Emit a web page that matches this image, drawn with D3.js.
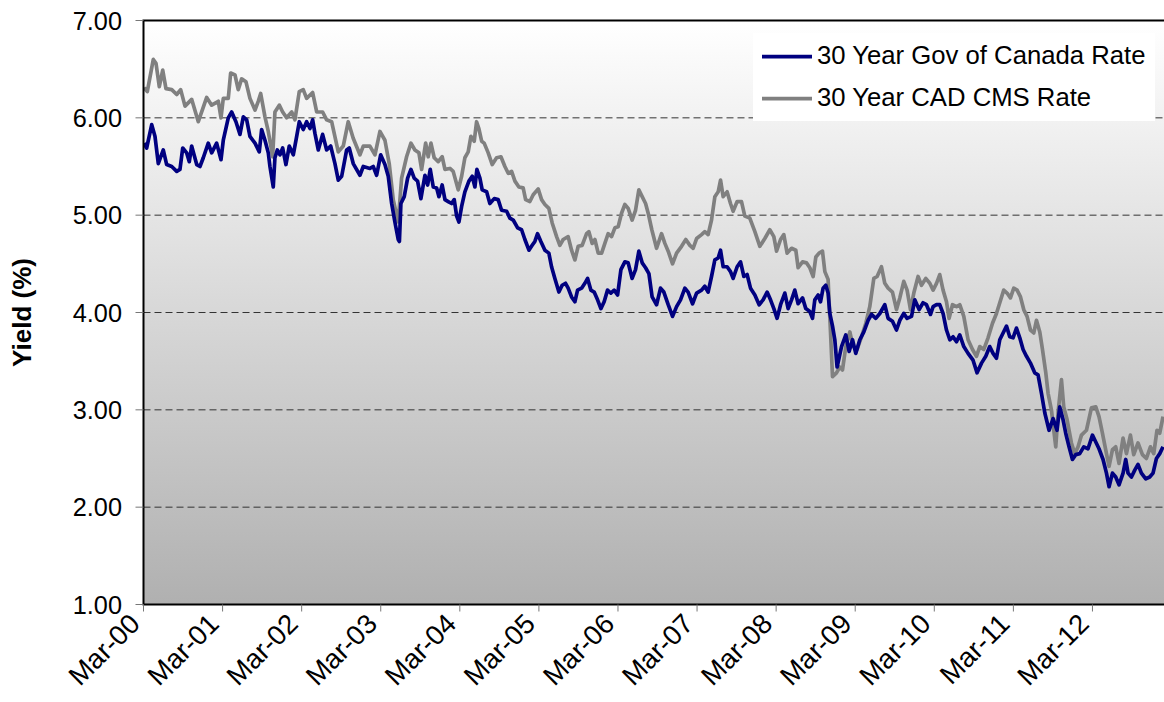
<!DOCTYPE html>
<html>
<head>
<meta charset="utf-8">
<script src="https://cdn.jsdelivr.net/npm/d3@7"></script>
<style>
    body { margin: 0; background: #fff; }
    svg text { font-family: "Liberation Sans", Arial, sans-serif; fill: #000; }
</style>
</head>
<body>
<svg id="chart" width="1164" height="702"></svg>
<script>

// axis labels
var tickYears = [2000, 2001, 2002, 2003, 2004, 2005, 2006, 2007, 2008, 2009, 2010, 2011, 2012];
var tickLabels = ["Mar-00", "Mar-01", "Mar-02", "Mar-03", "Mar-04", "Mar-05", "Mar-06",
                  "Mar-07", "Mar-08", "Mar-09", "Mar-10", "Mar-11", "Mar-12"];
var yTicks = [1, 2, 3, 4, 5, 6, 7];
var seriesNames = ["30 Year Gov of Canada Rate", "30 Year CAD CMS Rate"];

// 30 year Gov of Canada, decimal year / yield %
var govYear = [
    2000.176, 2000.210, 2000.274, 2000.315, 2000.357, 2000.420, 2000.463, 2000.527, 2000.590, 2000.631,
    2000.666, 2000.716, 2000.749, 2000.779, 2000.843, 2000.884, 2000.926, 2000.989, 2001.032, 2001.095,
    2001.150, 2001.179, 2001.242, 2001.285, 2001.339, 2001.390, 2001.432, 2001.475, 2001.516, 2001.580,
    2001.634, 2001.664, 2001.706, 2001.748, 2001.769, 2001.811, 2001.832, 2001.862, 2001.896, 2001.930,
    2001.971, 2002.013, 2002.064, 2002.107, 2002.140, 2002.190, 2002.233, 2002.275, 2002.309, 2002.338,
    2002.380, 2002.435, 2002.486, 2002.537, 2002.591, 2002.633, 2002.676, 2002.739, 2002.772, 2002.822,
    2002.907, 2002.949, 2003.033, 2003.075, 2003.118, 2003.169, 2003.223, 2003.265, 2003.308, 2003.349,
    2003.391, 2003.406, 2003.425, 2003.467, 2003.510, 2003.552, 2003.593, 2003.636, 2003.678, 2003.729,
    2003.763, 2003.796, 2003.834, 2003.877, 2003.906, 2003.947, 2003.982, 2004.023, 2004.066, 2004.099,
    2004.130, 2004.159, 2004.193, 2004.234, 2004.285, 2004.327, 2004.361, 2004.386, 2004.424, 2004.453,
    2004.509, 2004.550, 2004.605, 2004.655, 2004.698, 2004.762, 2004.803, 2004.845, 2004.901, 2004.951,
    2004.993, 2005.044, 2005.085, 2005.119, 2005.153, 2005.195, 2005.246, 2005.296, 2005.330, 2005.372,
    2005.423, 2005.464, 2005.507, 2005.540, 2005.583, 2005.625, 2005.659, 2005.710, 2005.751, 2005.786,
    2005.827, 2005.869, 2005.912, 2005.954, 2005.995, 2006.038, 2006.080, 2006.122, 2006.165, 2006.207,
    2006.257, 2006.299, 2006.349, 2006.392, 2006.434, 2006.476, 2006.519, 2006.561, 2006.602, 2006.658,
    2006.708, 2006.750, 2006.805, 2006.860, 2006.911, 2006.961, 2007.016, 2007.057, 2007.113, 2007.164,
    2007.227, 2007.268, 2007.310, 2007.353, 2007.395, 2007.437, 2007.467, 2007.500, 2007.550, 2007.593,
    2007.626, 2007.677, 2007.720, 2007.762, 2007.803, 2007.846, 2007.901, 2007.955, 2008.005, 2008.056,
    2008.099, 2008.141, 2008.182, 2008.226, 2008.280, 2008.322, 2008.365, 2008.406, 2008.448, 2008.504,
    2008.545, 2008.596, 2008.630, 2008.659, 2008.701, 2008.731, 2008.764, 2008.798, 2008.827, 2008.849,
    2008.883, 2008.912, 2008.941, 2008.997, 2009.051, 2009.093, 2009.136, 2009.177, 2009.228, 2009.279,
    2009.333, 2009.376, 2009.430, 2009.481, 2009.544, 2009.586, 2009.641, 2009.692, 2009.734, 2009.784,
    2009.826, 2009.882, 2009.923, 2009.978, 2010.028, 2010.071, 2010.122, 2010.155, 2010.198, 2010.239,
    2010.281, 2010.324, 2010.366, 2010.407, 2010.451, 2010.492, 2010.543, 2010.597, 2010.660, 2010.711,
    2010.767, 2010.821, 2010.871, 2010.913, 2010.956, 2010.998, 2011.040, 2011.083, 2011.124, 2011.166,
    2011.209, 2011.251, 2011.293, 2011.336, 2011.386, 2011.440, 2011.482, 2011.525, 2011.567, 2011.621,
    2011.672, 2011.722, 2011.756, 2011.798, 2011.832, 2011.874, 2011.917, 2011.959, 2012.009, 2012.060,
    2012.114, 2012.170, 2012.212, 2012.253, 2012.304, 2012.347, 2012.380, 2012.423, 2012.464, 2012.506,
    2012.557, 2012.591, 2012.620, 2012.663, 2012.705, 2012.746, 2012.789, 2012.844, 2012.894, 2012.936,
    2012.979, 2013.021, 2013.062
];
var govYield = [
    5.74, 5.69, 5.93, 5.81, 5.53, 5.67, 5.52, 5.50, 5.45, 5.47,
    5.69, 5.64, 5.55, 5.71, 5.52, 5.50, 5.59, 5.74, 5.64, 5.74,
    5.57, 5.77, 6.00, 6.06, 5.96, 5.83, 6.01, 5.98, 5.81, 5.74,
    5.65, 5.88, 5.77, 5.64, 5.50, 5.29, 5.59, 5.67, 5.62, 5.69,
    5.52, 5.71, 5.62, 5.81, 5.96, 5.88, 5.96, 5.89, 5.98, 5.84,
    5.67, 5.83, 5.67, 5.71, 5.53, 5.36, 5.40, 5.67, 5.69, 5.53,
    5.41, 5.50, 5.48, 5.50, 5.41, 5.62, 5.52, 5.40, 5.12, 4.93,
    4.75, 4.73, 5.12, 5.19, 5.38, 5.47, 5.38, 5.35, 5.17, 5.41,
    5.31, 5.47, 5.29, 5.28, 5.19, 5.31, 5.16, 5.14, 5.12, 5.16,
    4.99, 4.93, 5.09, 5.24, 5.35, 5.40, 5.29, 5.47, 5.38, 5.26,
    5.24, 5.12, 5.17, 5.16, 5.05, 5.04, 4.97, 4.95, 4.87, 4.85,
    4.75, 4.64, 4.69, 4.73, 4.81, 4.73, 4.64, 4.61, 4.47, 4.35,
    4.21, 4.28, 4.30, 4.25, 4.16, 4.11, 4.23, 4.25, 4.30, 4.35,
    4.23, 4.21, 4.13, 4.04, 4.11, 4.23, 4.20, 4.23, 4.18, 4.44,
    4.52, 4.51, 4.35, 4.44, 4.63, 4.51, 4.46, 4.40, 4.16, 4.08,
    4.25, 4.21, 4.08, 3.96, 4.06, 4.13, 4.25, 4.21, 4.09, 4.20,
    4.23, 4.27, 4.21, 4.37, 4.54, 4.56, 4.64, 4.47, 4.47, 4.42,
    4.35, 4.47, 4.52, 4.37, 4.39, 4.25, 4.18, 4.08, 4.13, 4.21,
    4.13, 4.04, 3.94, 4.08, 4.20, 4.04, 4.13, 4.23, 4.09, 4.15,
    4.04, 4.01, 3.94, 4.13, 4.18, 4.11, 4.25, 4.28, 4.20, 3.99,
    3.86, 3.72, 3.44, 3.65, 3.77, 3.60, 3.72, 3.58, 3.72, 3.80,
    3.92, 3.98, 3.94, 3.99, 4.08, 3.94, 3.91, 3.82, 3.92, 3.99,
    3.94, 3.96, 4.13, 4.03, 4.10, 4.08, 3.98, 4.06, 4.08, 4.08,
    3.99, 3.82, 3.72, 3.75, 3.70, 3.77, 3.65, 3.58, 3.51, 3.38,
    3.48, 3.55, 3.65, 3.58, 3.53, 3.72, 3.79, 3.86, 3.75, 3.74,
    3.84, 3.74, 3.62, 3.55, 3.48, 3.38, 3.36, 3.17, 2.97, 2.79,
    2.91, 2.79, 3.03, 2.90, 2.76, 2.62, 2.49, 2.54, 2.55, 2.62,
    2.60, 2.74, 2.67, 2.60, 2.49, 2.35, 2.21, 2.35, 2.31, 2.23,
    2.35, 2.49, 2.35, 2.31, 2.38, 2.44, 2.35, 2.29, 2.31, 2.35,
    2.50, 2.55, 2.62
];

// 30 year CAD CMS, decimal year / yield %
var cmsYear = [
    2000.176, 2000.218, 2000.294, 2000.328, 2000.370, 2000.413, 2000.454, 2000.527, 2000.590, 2000.640,
    2000.695, 2000.779, 2000.863, 2000.969, 2001.032, 2001.116, 2001.150, 2001.179, 2001.242, 2001.272,
    2001.327, 2001.368, 2001.411, 2001.466, 2001.516, 2001.580, 2001.621, 2001.652, 2001.706, 2001.748,
    2001.803, 2001.832, 2001.887, 2001.930, 2001.980, 2002.044, 2002.085, 2002.140, 2002.190, 2002.233,
    2002.309, 2002.360, 2002.435, 2002.486, 2002.549, 2002.633, 2002.696, 2002.759, 2002.822, 2002.907,
    2002.949, 2003.033, 2003.097, 2003.160, 2003.223, 2003.277, 2003.328, 2003.391, 2003.434, 2003.497,
    2003.552, 2003.602, 2003.653, 2003.687, 2003.738, 2003.770, 2003.805, 2003.846, 2003.897, 2003.947,
    2003.982, 2004.045, 2004.086, 2004.150, 2004.193, 2004.234, 2004.276, 2004.310, 2004.352, 2004.382,
    2004.411, 2004.446, 2004.478, 2004.529, 2004.580, 2004.635, 2004.690, 2004.740, 2004.782, 2004.825,
    2004.867, 2004.917, 2004.971, 2005.002, 2005.056, 2005.098, 2005.161, 2005.204, 2005.246, 2005.296,
    2005.338, 2005.394, 2005.435, 2005.477, 2005.540, 2005.583, 2005.625, 2005.667, 2005.717, 2005.773,
    2005.802, 2005.844, 2005.878, 2005.920, 2005.963, 2006.004, 2006.046, 2006.089, 2006.131, 2006.172,
    2006.215, 2006.257, 2006.299, 2006.349, 2006.392, 2006.434, 2006.476, 2006.519, 2006.552, 2006.598,
    2006.658, 2006.721, 2006.763, 2006.805, 2006.860, 2006.911, 2006.974, 2007.028, 2007.079, 2007.121,
    2007.164, 2007.227, 2007.268, 2007.310, 2007.353, 2007.395, 2007.437, 2007.467, 2007.500, 2007.550,
    2007.593, 2007.626, 2007.677, 2007.732, 2007.774, 2007.837, 2007.901, 2007.964, 2008.027, 2008.090,
    2008.141, 2008.175, 2008.226, 2008.267, 2008.309, 2008.365, 2008.419, 2008.448, 2008.504, 2008.554,
    2008.596, 2008.638, 2008.672, 2008.713, 2008.756, 2008.786, 2008.827, 2008.858, 2008.883, 2008.933,
    2008.975, 2009.009, 2009.051, 2009.102, 2009.143, 2009.194, 2009.249, 2009.304, 2009.354, 2009.405,
    2009.447, 2009.502, 2009.544, 2009.586, 2009.641, 2009.692, 2009.734, 2009.784, 2009.826, 2009.869,
    2009.911, 2009.965, 2010.008, 2010.062, 2010.113, 2010.155, 2010.198, 2010.239, 2010.281, 2010.324,
    2010.357, 2010.400, 2010.451, 2010.492, 2010.543, 2010.597, 2010.653, 2010.703, 2010.745, 2010.796,
    2010.850, 2010.906, 2010.956, 2010.998, 2011.048, 2011.090, 2011.133, 2011.175, 2011.217, 2011.260,
    2011.301, 2011.343, 2011.386, 2011.428, 2011.462, 2011.504, 2011.538, 2011.580, 2011.609, 2011.651,
    2011.681, 2011.706, 2011.735, 2011.778, 2011.807, 2011.849, 2011.904, 2011.946, 2011.988, 2012.031,
    2012.094, 2012.157, 2012.212, 2012.253, 2012.296, 2012.347, 2012.380, 2012.423, 2012.464, 2012.506,
    2012.557, 2012.600, 2012.650, 2012.692, 2012.746, 2012.802, 2012.852, 2012.903, 2012.945, 2012.986,
    2013.021, 2013.062
];
var cmsYield = [
    6.31, 6.27, 6.60, 6.56, 6.32, 6.49, 6.30, 6.29, 6.24, 6.29,
    6.12, 6.19, 5.96, 6.21, 6.13, 6.17, 6.00, 6.20, 6.20, 6.46,
    6.44, 6.29, 6.40, 6.37, 6.20, 6.08, 6.17, 6.25, 6.01, 5.86,
    5.60, 6.06, 6.13, 6.06, 6.00, 6.06, 5.98, 6.27, 6.29, 6.20,
    6.26, 6.06, 6.06, 5.98, 5.96, 5.65, 5.71, 5.96, 5.79, 5.62,
    5.71, 5.71, 5.62, 5.86, 5.77, 5.53, 5.16, 4.93, 5.38, 5.60,
    5.74, 5.67, 5.64, 5.47, 5.74, 5.60, 5.74, 5.59, 5.55, 5.60,
    5.47, 5.48, 5.45, 5.26, 5.40, 5.59, 5.65, 5.81, 5.76, 5.96,
    5.89, 5.76, 5.74, 5.64, 5.52, 5.59, 5.60, 5.50, 5.43, 5.45,
    5.35, 5.29, 5.28, 5.16, 5.14, 5.21, 5.27, 5.16, 5.11, 5.07,
    4.92, 4.78, 4.69, 4.75, 4.78, 4.64, 4.54, 4.68, 4.69, 4.81,
    4.83, 4.71, 4.75, 4.61, 4.61, 4.71, 4.81, 4.78, 4.87, 4.88,
    5.02, 5.11, 5.07, 4.95, 5.05, 5.26, 5.19, 5.12, 5.02, 4.85,
    4.66, 4.81, 4.71, 4.63, 4.50, 4.61, 4.68, 4.75, 4.69, 4.66,
    4.76, 4.80, 4.83, 4.80, 4.95, 5.19, 5.24, 5.36, 5.19, 5.24,
    5.12, 5.04, 5.14, 5.14, 4.99, 4.97, 4.83, 4.68, 4.76, 4.85,
    4.78, 4.63, 4.75, 4.80, 4.61, 4.66, 4.64, 4.46, 4.52, 4.51,
    4.46, 4.37, 4.57, 4.61, 4.63, 4.42, 4.34, 3.79, 3.34, 3.38,
    3.44, 3.41, 3.65, 3.80, 3.65, 3.62, 3.75, 3.89, 4.06, 4.35,
    4.37, 4.47, 4.30, 4.25, 4.21, 4.03, 4.15, 4.32, 4.23, 4.03,
    4.20, 4.37, 4.28, 4.35, 4.30, 4.23, 4.30, 4.39, 4.23, 4.11,
    3.94, 4.08, 4.06, 4.08, 3.96, 3.72, 3.62, 3.55, 3.65, 3.62,
    3.74, 3.89, 3.99, 4.10, 4.23, 4.20, 4.15, 4.25, 4.23, 4.16,
    4.03, 3.96, 3.82, 3.79, 3.92, 3.80, 3.62, 3.38, 3.17, 3.00,
    2.79, 2.62, 2.97, 3.31, 3.03, 2.90, 2.66, 2.55, 2.62, 2.74,
    2.79, 3.02, 3.03, 2.93, 2.76, 2.55, 2.42, 2.59, 2.62, 2.45,
    2.71, 2.55, 2.74, 2.54, 2.66, 2.54, 2.50, 2.62, 2.55, 2.79,
    2.76, 2.93
];

var colors = ["#000080", "#808080"];

if (govYear.length !== govYield.length || cmsYear.length !== cmsYield.length) {
    console.error("series length mismatch", govYear.length, govYield.length, cmsYear.length, cmsYield.length);
}

var series = [
    { name: seriesNames[0], color: colors[0], values: d3.zip(govYear, govYield) },
    { name: seriesNames[1], color: colors[1], values: d3.zip(cmsYear, cmsYield) }
];

var plotLeft = 143.5, plotTop = 20.5, plotRight = 1166, plotBottom = 604.5;

var svg = d3.select("#chart");

var x = d3.scaleLinear().domain([2000.17, 2013.1]).range([plotLeft, plotRight]),
    y = d3.scaleLinear().domain([1, 7]).range([plotBottom, plotTop]);

var defs = svg.append("defs");

var grad = defs.append("linearGradient")
    .attr("id", "bg")
    .attr("x1", 0).attr("y1", 0).attr("x2", 0).attr("y2", 1);
grad.append("stop").attr("offset", "0%").attr("stop-color", "#ffffff");
grad.append("stop").attr("offset", "100%").attr("stop-color", "#b0b0b0");

defs.append("clipPath").attr("id", "plotclip")
    .append("rect")
    .attr("x", plotLeft).attr("y", plotTop)
    .attr("width", plotRight - plotLeft).attr("height", plotBottom - plotTop);

// plot background
svg.append("rect")
    .attr("x", plotLeft).attr("y", plotTop)
    .attr("width", plotRight - plotLeft).attr("height", plotBottom - plotTop)
    .attr("fill", "url(#bg)");

// dashed gridlines
svg.append("g")
    .selectAll("line")
    .data(yTicks.filter(function (d) { return d > 1 && d < 7; }))
    .enter()
    .append("line")
    .attr("x1", plotLeft).attr("x2", plotRight)
    .attr("y1", function (d) { return y(d); })
    .attr("y2", function (d) { return y(d); })
    .attr("stroke", "#333")
    .attr("stroke-width", 1)
    .attr("stroke-dasharray", "7,4");

// the two rate lines
var line = d3.line()
    .x(function (d) { return x(d[0]); })
    .y(function (d) { return y(d[1]); });

svg.append("g")
    .attr("clip-path", "url(#plotclip)")
    .selectAll("path")
    .data(series.slice().reverse())
    .enter()
    .append("path")
    .attr("d", function (d) { return line(d.values); })
    .attr("fill", "none")
    .attr("stroke", function (d) { return d.color; })
    .attr("stroke-width", 3.7)
    .attr("stroke-linejoin", "round");

// legend
var legend = svg.append("g");
legend.append("rect")
    .attr("x", 753).attr("y", 33)
    .attr("width", 402).attr("height", 88)
    .attr("fill", "#fff");

var item = legend.selectAll(".item")
    .data(series)
    .enter()
    .append("g")
    .attr("class", "item")
    .attr("transform", function (d, i) { return "translate(762," + (56.7 + i * 42) + ")"; });

item.append("line")
    .attr("x1", 0).attr("x2", 50)
    .attr("stroke", function (d) { return d.color; })
    .attr("stroke-width", 3.7);

item.append("text")
    .attr("x", 55).attr("y", 7.5)
    .style("font-size", "25.7px")
    .text(function (d) { return d.name; });

// frame: top, left, bottom
svg.append("path")
    .attr("d", "M" + plotRight + "," + plotTop + "H" + plotLeft + "V" + plotBottom + "H" + plotRight)
    .attr("fill", "none")
    .attr("stroke", "#000")
    .attr("stroke-width", 2);

// y axis ticks + labels
var yAxis = svg.append("g");
yAxis.selectAll("line")
    .data(yTicks)
    .enter()
    .append("line")
    .attr("x1", plotLeft - 8).attr("x2", plotLeft)
    .attr("y1", function (d) { return y(d); })
    .attr("y2", function (d) { return y(d); })
    .attr("stroke", "#777")
    .attr("stroke-width", 1);

yAxis.selectAll("text")
    .data(yTicks)
    .enter()
    .append("text")
    .attr("x", 122)
    .attr("y", function (d) { return y(d) + 9; })
    .attr("text-anchor", "end")
    .style("font-size", "25.3px")
    .text(function (d) { return d3.format(".2f")(d); });

// x axis ticks + labels
var xAxis = svg.append("g");
xAxis.selectAll("line")
    .data(tickYears)
    .enter()
    .append("line")
    .attr("x1", function (d) { return x(d + 0.17); })
    .attr("x2", function (d) { return x(d + 0.17); })
    .attr("y1", plotBottom).attr("y2", plotBottom + 7)
    .attr("stroke", "#777")
    .attr("stroke-width", 1);

xAxis.selectAll("text")
    .data(tickYears)
    .enter()
    .append("text")
    .attr("text-anchor", "end")
    .attr("transform", function (d) { return "translate(" + (x(d + 0.17) - 2) + "," + (plotBottom + 21) + ") rotate(-45)"; })
    .style("font-size", "27.5px")
    .text(function (d, i) { return tickLabels[i]; });

// y title
svg.append("text")
    .attr("transform", "translate(31," + y(4) + ") rotate(-90)")
    .attr("text-anchor", "middle")
    .style("font-size", "26px")
    .style("font-weight", "bold")
    .text("Yield (%)");

</script>
</body>
</html>
